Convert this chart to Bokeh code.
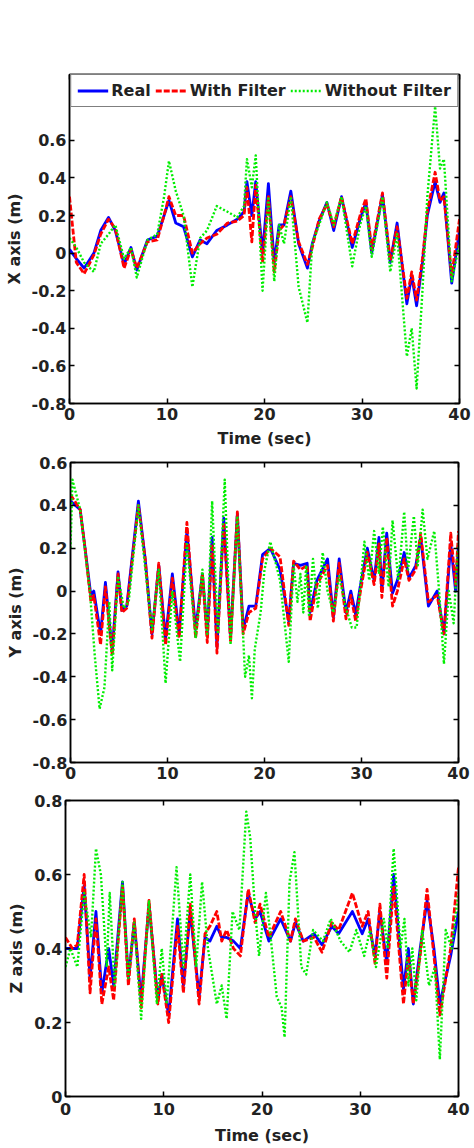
from bokeh.plotting import figure
from bokeh.models import Range1d, LinearAxis, FixedTicker, CustomJSTickFormatter, Legend, LegendItem
from bokeh.layouts import column
from bokeh.embed import file_html
from bokeh.resources import INLINE

# ---------------- data ----------------
x_t = [0, 0.7, 1.5, 2.5, 3.2, 4.0, 4.7, 5.6, 6.3, 6.9, 8.0, 9.0, 9.7, 10.2, 10.9,
       11.7, 12.6, 13.4, 14.1, 15.1, 16.2, 17.2, 17.9, 18.2, 18.7, 19.1, 19.8, 20.4, 21.0, 21.5,
       22.0, 22.7, 23.5, 24.4, 24.9, 25.6, 26.4, 27.1, 27.9, 29.0, 29.8, 30.4, 31.0, 32.1, 32.9,
       33.6, 34.6, 35.1, 35.6, 36.2, 36.7, 37.5, 38.0, 38.4, 39.2, 40.0]
x_real = [0.02, -0.03, -0.08, 0.0, 0.12, 0.19, 0.12, -0.06, 0.03, -0.09, 0.07, 0.09, 0.2, 0.28, 0.16,
          0.14, -0.02, 0.07, 0.05, 0.12, 0.15, 0.18, 0.22, 0.38, 0.2, 0.38, 0.0, 0.37, -0.05, 0.15,
          0.15, 0.33, 0.05, -0.08, 0.05, 0.17, 0.27, 0.12, 0.3, 0.03, 0.18, 0.27, 0.0, 0.31, -0.05,
          0.16, -0.27, -0.12, -0.28, -0.05, 0.2, 0.38, 0.27, 0.32, -0.16, 0.12]
x_filt = [0.3, -0.05, -0.11, -0.01, 0.1, 0.18, 0.13, -0.08, 0.02, -0.08, 0.06, 0.07, 0.2, 0.3, 0.2,
          0.2, 0.0, 0.05, 0.08, 0.1, 0.16, 0.17, 0.2, 0.35, 0.06, 0.36, -0.05, 0.3, -0.1, 0.12,
          0.15, 0.3, 0.06, -0.06, 0.03, 0.18, 0.26, 0.14, 0.3, 0.05, 0.2, 0.29, 0.02, 0.32, -0.04,
          0.14, -0.24, -0.1, -0.25, -0.03, 0.22, 0.43, 0.28, 0.3, -0.12, 0.18]
x_raw = [0.08, 0.03, -0.05, -0.1, 0.05, 0.1, 0.15, -0.03, 0.03, -0.13, 0.07, 0.1, 0.3, 0.49, 0.33,
         0.2, -0.18, 0.08, 0.12, 0.25, 0.22, 0.19, 0.25, 0.5, 0.35, 0.52, -0.2, 0.3, -0.15, 0.15,
         0.05, 0.3, -0.18, -0.37, 0.05, 0.15, 0.27, 0.15, 0.3, -0.07, 0.15, 0.25, -0.02, 0.3, -0.1,
         0.1, -0.55, -0.4, -0.72, -0.2, 0.3, 0.78, 0.45, 0.5, -0.15, 0.05]

y_t = [0, 1.0, 1.5, 2.1, 2.4, 3.1, 3.6, 4.3, 4.9, 5.3, 5.8, 7.0, 7.7, 8.4, 9.1,
       9.8, 10.5, 11.2, 12.0, 12.9, 13.6, 14.1, 14.6, 15.1, 15.8, 16.5, 17.2, 17.8, 18.4, 19.1,
       19.8, 20.6, 21.6, 22.5, 23.0, 23.7, 24.4, 24.7, 25.4, 26.5, 27.1, 27.7, 28.4, 28.9, 29.4,
       29.9, 30.6, 31.3, 31.8, 32.1, 32.6, 33.2, 33.7, 34.4, 34.9, 35.6, 36.1, 36.9, 37.8, 38.5,
       39.2, 39.7, 40.0]
y_real = [0.42, 0.38, 0.2, -0.02, 0.0, -0.2, 0.04, -0.28, 0.09, -0.09, -0.07, 0.42, 0.15, -0.2, 0.12,
          -0.22, 0.08, -0.2, 0.28, -0.18, 0.08, -0.2, 0.25, -0.26, 0.34, -0.22, 0.36, -0.18, -0.07, -0.07,
          0.17, 0.2, 0.1, -0.14, 0.13, 0.12, 0.13, -0.1, 0.05, 0.15, -0.12, 0.15, -0.1, 0.0, -0.11,
          0.03, 0.2, 0.05, 0.25, 0.0, 0.27, -0.01, 0.05, 0.18, 0.06, 0.12, 0.25, -0.07, 0.0, -0.2,
          0.22, 0.0, 0.22]
y_filt = [0.45, 0.38, 0.2, -0.05, -0.02, -0.25, 0.02, -0.3, 0.08, -0.1, -0.08, 0.4, 0.15, -0.22, 0.13,
          -0.25, 0.06, -0.22, 0.32, -0.22, 0.08, -0.24, 0.22, -0.29, 0.32, -0.24, 0.37, -0.2, -0.1, -0.08,
          0.15, 0.2, 0.16, -0.16, 0.14, 0.1, 0.12, -0.14, 0.03, 0.12, -0.14, 0.13, -0.13, -0.02, -0.14,
          0.0, 0.18, 0.03, 0.22, -0.03, 0.25, -0.07, 0.0, 0.15, 0.05, 0.1, 0.27, -0.05, -0.02, -0.2,
          0.27, 0.03, 0.28]
y_raw_t = [0, 0.2, 1.0, 2.0, 2.5, 3.0, 3.5, 4.0, 4.3, 4.9, 5.5, 6.0, 7.0, 8.4, 9.1,
           9.8, 10.5, 11.3, 12.0, 12.9, 13.6, 14.1, 14.6, 15.2, 15.9, 16.5, 17.2, 18.0, 18.4, 18.7,
           19.0, 19.6, 20.0, 20.6, 21.6, 22.5, 23.0, 23.4, 23.7, 24.0, 24.3, 24.6, 25.0, 25.5, 26.0,
           26.5, 27.1, 27.7, 28.4, 29.0, 29.5, 30.3, 30.8, 31.3, 31.8, 32.2, 32.8, 33.2, 33.8, 34.4,
           34.8, 35.4, 35.8, 36.3, 36.8, 37.5, 38.0, 38.5, 39.0, 39.5, 39.8, 40.0]
y_raw = [0.2, 0.52, 0.38, 0.0, -0.3, -0.55, -0.45, -0.05, -0.37, 0.07, -0.08, -0.05, 0.4, -0.18, 0.1,
         -0.43, 0.0, -0.33, 0.22, -0.22, 0.1, -0.2, 0.42, -0.2, 0.52, -0.25, 0.35, -0.4, -0.3, -0.5,
         -0.27, -0.1, 0.1, 0.23, 0.05, -0.33, 0.12, -0.05, 0.08, -0.1, 0.12, -0.12, 0.15, -0.08, 0.18,
         0.0, -0.1, 0.07, -0.08, -0.17, -0.17, 0.23, 0.05, 0.28, 0.08, 0.3, 0.02, 0.33, 0.05, 0.37,
         0.1, 0.35, 0.12, 0.38, 0.15, 0.28, 0.0, -0.34, 0.0, -0.15, 0.1, 0.22]

z_t = [0, 0.7, 1.2, 1.9, 2.5, 3.1, 3.7, 4.4, 4.9, 5.8, 6.4, 7.0, 7.7, 8.5, 9.4,
       9.8, 10.5, 11.4, 12.0, 12.7, 13.6, 14.2, 14.7, 15.4, 15.9, 16.4, 17.1, 17.8, 18.6, 19.3,
       19.8, 20.7, 21.9, 22.9, 23.4, 24.2, 25.3, 26.1, 27.1, 27.8, 29.2, 30.2, 30.8, 31.5, 32.0,
       32.7, 33.4, 34.4, 34.9, 35.4, 36.1, 36.8, 37.5, 38.1, 39.2, 40.0]
z_real = [0.4, 0.4, 0.4, 0.57, 0.32, 0.5, 0.28, 0.4, 0.3, 0.58, 0.32, 0.47, 0.26, 0.52, 0.26,
          0.33, 0.22, 0.48, 0.3, 0.5, 0.27, 0.43, 0.42, 0.46, 0.43, 0.43, 0.42, 0.4, 0.55, 0.48,
          0.5, 0.42, 0.48, 0.42, 0.47, 0.42, 0.44, 0.41, 0.46, 0.44, 0.5, 0.44, 0.48, 0.38, 0.5,
          0.36, 0.6, 0.29, 0.4, 0.25, 0.4, 0.53, 0.4, 0.25, 0.38, 0.5]
z_filt = [0.43, 0.4, 0.41, 0.6, 0.28, 0.48, 0.25, 0.35, 0.26, 0.57, 0.3, 0.48, 0.24, 0.53, 0.25,
          0.33, 0.2, 0.46, 0.28, 0.52, 0.25, 0.44, 0.46, 0.5, 0.42, 0.45, 0.4, 0.38, 0.56, 0.47,
          0.52, 0.43, 0.5, 0.42, 0.48, 0.42, 0.43, 0.39, 0.47, 0.45, 0.55, 0.46, 0.5, 0.36, 0.52,
          0.32, 0.57, 0.25, 0.38, 0.25, 0.38, 0.56, 0.38, 0.22, 0.4, 0.62]
z_raw_t = [0, 0.5, 1.2, 1.9, 2.6, 3.1, 3.6, 4.2, 4.5, 5.0, 5.8, 6.4, 7.0, 7.7, 8.5,
           9.3, 9.8, 10.3, 11.3, 12.0, 12.7, 13.3, 13.9, 14.5, 15.4, 15.9, 16.4, 17.0, 17.7, 18.4,
           18.8, 19.3, 19.7, 20.4, 21.0, 21.5, 22.0, 22.3, 22.8, 23.3, 24.0, 24.5, 25.2, 26.2, 27.0,
           28.0, 28.9, 29.6, 30.4, 31.0, 31.6, 32.4, 32.8, 33.4, 34.1, 34.5, 34.9, 35.3, 35.7, 36.3,
           37.0, 37.6, 38.1, 38.7, 39.3, 40.0]
z_raw = [0.35, 0.4, 0.35, 0.55, 0.43, 0.67, 0.6, 0.35, 0.55, 0.3, 0.58, 0.32, 0.47, 0.21, 0.53,
         0.25, 0.4, 0.25, 0.62, 0.35, 0.6, 0.35, 0.58, 0.4, 0.25, 0.3, 0.21, 0.5, 0.45, 0.77,
         0.7, 0.5, 0.38, 0.55, 0.4, 0.27, 0.24, 0.16, 0.58, 0.66, 0.35, 0.33, 0.45, 0.42, 0.48,
         0.42, 0.39, 0.45, 0.38, 0.45, 0.35, 0.48, 0.4, 0.67, 0.4, 0.48, 0.3, 0.4, 0.26, 0.45,
         0.3, 0.35, 0.1, 0.45, 0.4, 0.55]

x_ticks = [0, 10, 20, 30, 40]
xy_ticks = [-0.8, -0.6, -0.4, -0.2, 0, 0.2, 0.4, 0.6]
z_ticks = [0, 0.2, 0.4, 0.6, 0.8]
series_labels = ["Real", "With Filter", "Without Filter"]

# ---------------- styling ----------------
FONT = "DejaVu Sans"
FS = "16px"
BLUE, RED, GREEN = "#0000ff", "#ff0000", "#00ee00"


def style_axis(ax, ticks, show_labels=True):
    ax.ticker = FixedTicker(ticks=ticks)
    ax.major_tick_in = 5
    ax.major_tick_out = 0
    ax.minor_tick_line_color = None
    ax.axis_line_color = "black"
    ax.axis_line_width = 1.5
    ax.major_tick_line_width = 1.5
    ax.major_tick_line_color = "black"
    if show_labels:
        ax.formatter = CustomJSTickFormatter(code="return String(Math.round(tick*10)/10);")
        ax.major_label_text_font = FONT
        ax.major_label_text_font_style = "bold"
        ax.major_label_text_color = "#222222"
        ax.major_label_text_font_size = FS
        ax.axis_label_text_font = FONT
        ax.axis_label_text_font_style = "bold"
        ax.axis_label_text_font_size = FS
        ax.axis_label_text_color = "#222222"
    else:
        ax.major_label_text_color = None
        ax.major_label_text_font_size = "0px"
        ax.major_label_standoff = 0


def make_panel(height, top, bottom, left, right, ymin, ymax, yticks, ylabel, xlabel,
               tick_standoff, label_standoff):
    p = figure(width=474, height=height, x_range=Range1d(0, 40), y_range=Range1d(ymin, ymax),
               output_backend="svg", toolbar_location=None,
               min_border_top=top, min_border_bottom=bottom,
               min_border_left=left, min_border_right=right, frame_align=False)
    p.grid.visible = False
    p.outline_line_color = "black"
    p.outline_line_width = 1.5
    p.outline_line_alpha = 1.0
    style_axis(p.xaxis[0], x_ticks)
    style_axis(p.yaxis[0], yticks)
    p.xaxis[0].major_label_standoff = tick_standoff
    p.yaxis[0].major_label_standoff = 3
    p.yaxis[0].axis_label = ylabel
    p.yaxis[0].axis_label_standoff = 5
    if xlabel:
        p.xaxis[0].axis_label = xlabel
        p.xaxis[0].axis_label_standoff = label_standoff
    ra = LinearAxis()
    style_axis(ra, yticks, show_labels=False)
    p.add_layout(ra, "right")
    ta = LinearAxis()
    style_axis(ta, x_ticks, show_labels=False)
    p.add_layout(ta, "above")
    return p


def draw(p, tr, real, filt, tw, raw):
    r1 = p.line(tr, real, line_color=BLUE, line_width=2.8, line_join="round")
    r2 = p.line(tr, filt, line_color=RED, line_width=2.8, line_dash="6 2", line_join="round")
    r3 = p.line(tw, raw, line_color=GREEN, line_width=2.4, line_dash="2 2", line_join="round")
    return r1, r2, r3


# panel 1: frame extends up under the legend (legend sits inside the frame top)
p1 = make_panel(452, 74, 49, 69, 15, -0.8, 0.95, xy_ticks, "X axis (m)", "Time (sec)", 4, 6)
r1, r2, r3 = draw(p1, x_t, x_real, x_filt, x_t, x_raw)

legend = Legend(items=[LegendItem(label=series_labels[0], renderers=[r1]),
                       LegendItem(label=series_labels[1], renderers=[r2]),
                       LegendItem(label=series_labels[2], renderers=[r3])],
                location="top_center", orientation="horizontal")
legend.label_text_font = FONT
legend.label_text_font_style = "bold"
legend.label_text_font_size = FS
legend.label_text_color = "#222222"
legend.glyph_width = 31
legend.glyph_height = 19
legend.label_height = 19
legend.label_standoff = 3
legend.spacing = 5
legend.padding = 6
legend.margin = 0
legend.border_line_color = "black"
legend.border_line_width = 1.5
legend.background_fill_color = "white"
legend.background_fill_alpha = 1.0
p1.add_layout(legend)

p2 = make_panel(338, 10, 28, 70, 16, -0.8, 0.6, xy_ticks, "Y axis (m)", None, 4, 6)
draw(p2, y_t, y_real, y_filt, y_raw_t, y_raw)

p3 = make_panel(358, 10, 52, 65, 16, 0, 0.8, z_ticks, "Z axis (m)", "Time (sec)", 6, 8)
draw(p3, z_t, z_real, z_filt, z_raw_t, z_raw)

layout = column(p1, p2, p3, spacing=0)
open("out.html", "w").write(file_html(layout, INLINE))
